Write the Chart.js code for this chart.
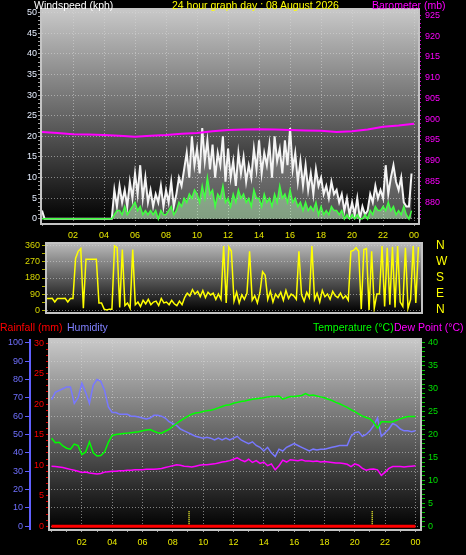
<!DOCTYPE html>
<html>
<head>
<meta charset="utf-8">
<script src="https://cdn.jsdelivr.net/npm/chart.js@4.4.1/dist/chart.umd.min.js"></script>
<style>
  body { margin: 0; background: #000; width: 466px; height: 555px; overflow: hidden; position: relative; font-family: "Liberation Sans", Arial, sans-serif; }
  canvas { position: absolute; left: 0; }
  .t { position: absolute; font-size: 10.5px; line-height: 12px; white-space: nowrap; z-index: 2; }
</style>
</head>
<body>
<canvas id="wind" width="466" height="245" style="top:0"></canvas>
<canvas id="dir" width="466" height="78" style="top:240px"></canvas>
<canvas id="climate" width="466" height="220" style="top:335px"></canvas>

<div class="t" style="left:34px;top:-1px;color:#fff">Windspeed (kph)</div>
<div class="t" style="left:172px;top:-1px;color:#ff0">24 hour graph day : 08 August 2026</div>
<div class="t" style="left:372px;top:-1px;color:#f0f">Barometer (mb)</div>
<div class="t" style="left:0;top:321px;color:#f00">Rainfall (mm)</div>
<div class="t" style="left:67px;top:321px;color:#8080ff">Humidity</div>
<div class="t" style="left:313px;top:321px;color:#0f0">Temperature (°C)</div>
<div class="t" style="left:394px;top:321px;color:#f0f">Dew Point (°C)</div>

<script>
// x tick labels (every 2 hours)
const hourLabels = ["02", "04", "06", "08", "10", "12", "14", "16", "18", "20", "22", "00"];

// wind, 10 minute samples (kph)
const gustKph = [
  2, 0, 0, 0, 0, 0,   0, 0, 0, 0, 0, 0,   0, 0, 0, 0, 0, 0,   0, 0, 0, 0, 0, 0,
  0, 0, 0, 0, 7, 3,   8, 4, 7, 3, 9, 5,   11, 6, 13, 5, 10, 4,   7, 3, 6, 4, 8, 3,
  7, 4, 9, 3, 6, 10,   8, 12, 16, 10, 20, 13,   17, 11, 22, 14, 19, 12,   18, 10, 16, 13, 20, 9,
  17, 10, 14, 8, 16, 11,   15, 9, 13, 10, 17, 12,   19, 11, 16, 13, 18, 10,   20, 14, 17, 11, 19, 13,
  22, 12, 16, 9, 14, 8,   13, 7, 11, 6, 12, 8,   10, 6, 8, 5, 9, 6,   7, 4, 6, 2, 5, 1,
  4, 1, 5, 0, 3, 1,   2, 6, 4, 8, 5, 7,   5, 13, 6, 10, 13, 9,   7, 10, 4, 3, 3, 11
];
const avgKph = [
  0, 0, 0, 0, 0, 0,   0, 0, 0, 0, 0, 0,   0, 0, 0, 0, 0, 0,   0, 0, 0, 0, 0, 0,
  0, 0, 0, 0, 1, 2,   2, 1, 3, 1, 2, 3,   4, 2, 3, 1, 2, 1,   2, 1, 2, 0, 2, 1,
  1, 2, 3, 1, 2, 4,   3, 5, 4, 6, 5, 7,   6, 4, 8, 5, 10, 6,   7, 3, 6, 5, 8, 4,
  5, 3, 6, 4, 7, 5,   6, 4, 5, 3, 7, 5,   5, 3, 6, 4, 5, 3,   6, 4, 8, 5, 6, 4,
  7, 4, 5, 3, 4, 2,   4, 2, 3, 2, 4, 1,   3, 1, 2, 1, 3, 2,   2, 1, 2, 0, 1, 0,
  1, 0, 1, 0, 0, 1,   0, 2, 1, 3, 2, 2,   3, 2, 4, 2, 3, 1,   2, 1, 3, 1, 0, 2
];
// barometer, hourly (mb)
const baroMb = [896.9, 896.7, 896.4, 896.3, 896.2, 896.0, 895.8, 896.0, 896.2, 896.5, 896.7, 897.1,
  897.4, 897.5, 897.6, 897.5, 897.4, 897.3, 897.2, 896.9, 897.1, 897.5, 898.2, 898.5, 898.9];

// wind direction, 10 minute samples (degrees)
const dirDeg = [
  65, 65, 66, 45, 65, 65,   65, 66, 45, 65, 65, 290,   330, 345, 10, 285, 285, 285,   285, 285, 40, 40, 5, 0,
  5, 5, 360, 350, 15, 340,   25, 40, 10, 340, 30, 45,   20, 55, 35, 60, 30, 45,   50, 25, 65, 40, 45, 30,
  55, 35, 25, 50, 30, 70,   95, 80, 115, 90, 105, 75,   110, 70, 100, 85, 95, 60,   90, 60, 360, 40, 355, 330,
  50, 100, 40, 85, 60, 95,   330, 55, 80, 40, 100, 215,   195, 60, 105, 45, 90, 70,   100, 55, 110, 65, 90, 80,
  60, 330, 85, 50, 100, 70,   360, 60, 95, 45, 110, 75,   90, 60, 105, 80, 70, 95,   65, 80, 55, 330, 335, 350,
  330, 5, 340, 345, 0, 330,   10, 90, 90, 360, 20, 350,   30, 355, 15, 360, 45, 20,   350, 10, 60, 360, 40, 355
];
const compassDeg = [0, 90, 180, 270, 360];
const compassLabels = ["N", "E", "S", "W", "N"];

// 15 minute samples
const humidityPct = [
  69, 73, 74, 75,  76, 76, 67, 70,  78, 73, 67, 77,  80, 79, 74, 65,
  62, 62, 61, 61,  61, 60, 60, 59.5,  59, 58.5, 59, 60.5,  60.5, 60, 59, 57,
  56, 55, 53, 52,  51, 50, 49, 48.5,  48, 48.5, 48, 47,  48, 47, 48, 47,
  48, 49, 47, 46,  45, 46, 44, 43,  41, 43, 40, 38,  42, 41, 43, 44,
  45, 44, 43, 42,  41, 42, 41.5, 42,  42, 42.5, 43, 43.5,  44, 44, 44, 49,
  51, 51.5, 49, 50,  52, 55, 59, 49,  51, 53, 56, 55,  53, 52, 52, 51.5,  52
];
const tempC = [
  19.2, 18.2, 18.3, 17.5,  17.0, 16.8, 17.9, 17.6,  15.6, 16.2, 18.4, 16.0,  15.3, 15.4, 16.2, 18.3,
  19.8, 20.0, 20.1, 20.2,  20.3, 20.4, 20.5, 20.6,  20.8, 21.0, 21.1, 20.7,  20.4, 20.3, 20.7, 21.1,
  21.8, 22.4, 23.0, 23.5,  24.0, 24.4, 24.7, 24.8,  25.0, 25.2, 25.3, 25.5,  25.8, 26.1, 26.4, 26.5,
  26.8, 27.0, 27.2, 27.3,  27.5, 27.7, 27.8, 27.9,  28.0, 28.2, 28.3, 28.3,  28.4, 27.7, 28.0, 28.3,
  28.3, 28.4, 28.5, 28.9,  28.5, 28.6, 28.4, 28.2,  28.0, 27.7, 27.4, 27.0,  26.7, 26.3, 25.9, 25.4,
  25.0, 24.5, 24.0, 23.7,  23.4, 22.6, 21.4, 22.8,  22.8, 22.7, 22.8, 23.1,  23.4, 23.7, 23.9, 23.9,  23.9
];
const dewC = [
  13.1, 13.0, 12.9, 12.8,  12.6, 12.4, 12.2, 12.0,  11.7, 11.8, 11.6, 11.5,  11.4, 11.5, 11.8, 11.9,
  12.0, 12.0, 12.1, 12.1,  12.2, 12.2, 12.3, 12.3,  12.3, 12.4, 12.4, 12.4,  12.5, 12.6, 12.8, 13.0,
  13.2, 13.4, 13.3, 13.1,  13.0, 12.9, 13.1, 13.3,  13.4, 13.4, 13.5, 13.6,  13.8, 14.0, 14.1, 14.3,
  14.6, 14.9, 14.4, 14.1,  14.6, 13.9, 14.3, 13.7,  14.0, 13.2, 13.6, 12.3,  13.2, 14.4, 14.0, 14.5,
  14.4, 14.3, 14.5, 14.2,  14.2, 14.1, 14.2, 14.0,  14.1, 14.0, 13.9, 13.8,  13.8, 13.7, 13.5, 13.0,
  13.6, 13.3, 12.6, 12.2,  12.4, 12.5, 12.3, 11.1,  11.8, 12.6, 13.0, 13.0,  13.0, 12.9, 13.0, 13.1,  13.2
];
// rainfall, hourly (mm)
const rainMm = [0, 0, 0, 0, 0, 0, 0, 0, 0, 0, 0, 0, 0, 0, 0, 0, 0, 0, 0, 0, 0, 0, 0, 0, 0];
// yellow dotted markers on the rain axis
const markerHours = [9.07, 21.15];
const markerMm = 2.5;

Chart.defaults.font.family = "'Liberation Sans', Arial, sans-serif";
Chart.defaults.font.size = 9;

const gridCol = "rgba(215,215,215,0.55)";
const pts = (vals, step) => vals.map((v, i) => ({ x: i * step, y: v }));
const setTicks = (s, from, to, step) => {
  const t = [];
  for (let v = from; v <= to + 1e-9; v += step) t.push({ value: v });
  s.ticks = t;
};
const hourLabel = v => (v > 0 && v % 2 === 0) ? hourLabels[v / 2 - 1] : "";
// fixed axis size, no extra label padding so the plot area lands where we want it
const fixSize = (w, h) => s => {
  if (w) s.width = w;
  if (h) s.height = h;
  s.paddingTop = 0; s.paddingBottom = 0; s.paddingLeft = 0; s.paddingRight = 0;
};

function plotFrame(topCol) {
  return {
    id: "plotFrame",
    beforeDraw(chart) {
      const { ctx, chartArea: a } = chart;
      const g = ctx.createLinearGradient(0, a.top, 0, a.bottom);
      g.addColorStop(0, topCol);
      g.addColorStop(1, "#000000");
      ctx.save();
      ctx.fillStyle = g;
      ctx.fillRect(a.left, a.top, a.width, a.height);
      ctx.restore();
    },
    afterDatasetsDraw(chart) {
      const { ctx, chartArea: a } = chart;
      ctx.save();
      ctx.strokeStyle = "#c4c4c4";
      ctx.lineWidth = 2;
      ctx.strokeRect(a.left - 1, a.top - 1, a.width + 2, a.height + 2);
      ctx.restore();
    }
  };
}

const base = {
  animation: false,
  responsive: false,
  events: [],
  plugins: { legend: { display: false }, tooltip: { enabled: false } },
  elements: { point: { radius: 0 }, line: { tension: 0 } }
};

// windspeed + barometer
new Chart(document.getElementById("wind"), {
  type: "line",
  data: {
    datasets: [
      { label: "Barometer", data: pts(baroMb, 1), yAxisID: "baro", borderColor: "#ff00ff", borderWidth: 2 },
      { label: "Average", data: pts(avgKph, 1 / 6), yAxisID: "y", borderColor: "#40ff40", backgroundColor: "rgba(190,255,190,0.45)", fill: "origin", borderWidth: 1.5 },
      { label: "Gust", data: pts(gustKph, 1 / 6), yAxisID: "y", borderColor: "#f4f4f4", backgroundColor: "rgba(255,255,255,0.3)", fill: "origin", borderWidth: 2 }
    ]
  },
  options: {
    ...base,
    layout: { padding: { left: 12, right: 8, top: 10, bottom: 0 } },
    scales: {
      x: {
        type: "linear", min: 0, max: 24.25,
        afterBuildTicks: s => setTicks(s, 0, 24, 2),
        afterFit: fixSize(0, 22),
        ticks: { color: "#e8e800", autoSkip: false, maxRotation: 0, padding: 4, callback: hourLabel },
        grid: { color: c => c.tick && c.tick.value > 0 ? gridCol : "transparent", tickColor: "#909090", tickLength: 3 },
        border: { display: false, dash: [1, 2] }
      },
      y: {
        position: "left", min: -1, max: 50.6,
        afterBuildTicks: s => setTicks(s, 0, 50, 1),
        afterFit: fixSize(30, 0),
        ticks: { color: "#e6eeff", autoSkip: false, padding: 1, callback: v => v % 5 === 0 ? v : "" },
        grid: { color: c => c.tick && c.tick.value % 5 === 0 ? gridCol : "transparent", tickColor: "#a0a0a0", tickLength: 4 },
        border: { display: false, dash: [1, 2] }
      },
      baro: {
        position: "right", min: 875, max: 926.3,
        afterBuildTicks: s => setTicks(s, 876, 925, 1),
        afterFit: fixSize(40, 0),
        ticks: { color: "#ff00ff", autoSkip: false, padding: 4, callback: v => v % 5 === 0 ? v : "" },
        grid: { drawOnChartArea: false, tickColor: "#d000d0", tickLength: 3 },
        border: { display: false }
      }
    }
  },
  plugins: [plotFrame("#c8c8c8")]
});

// wind direction
new Chart(document.getElementById("dir"), {
  type: "line",
  data: {
    datasets: [
      { label: "Direction", data: pts(dirDeg, 1 / 6), borderColor: "#ffff00", borderWidth: 1.5 }
    ]
  },
  options: {
    ...base,
    layout: { padding: { left: 17, right: 15, top: 4, bottom: 6 } },
    scales: {
      x: { type: "linear", display: false, min: 0, max: 24 },
      y: {
        position: "left", min: -11, max: 371,
        afterBuildTicks: s => setTicks(s, 0, 360, 45),
        afterFit: fixSize(30, 0),
        ticks: { color: "#d8d800", autoSkip: false, padding: 2, callback: v => v % 90 === 0 ? v : "" },
        grid: { color: c => c.tick && c.tick.value % 90 === 0 ? gridCol : "transparent", tickColor: "#b0b000", tickLength: 5 },
        border: { display: false, dash: [1, 2] }
      },
      compass: {
        position: "right", min: -11, max: 371,
        afterBuildTicks: s => { s.ticks = compassDeg.map(v => ({ value: v })); },
        afterFit: fixSize(30, 0),
        ticks: { color: "#ffff00", autoSkip: false, padding: 15, font: { size: 12 }, callback: (v, i) => compassLabels[i] },
        grid: { drawOnChartArea: false, drawTicks: false },
        border: { display: false }
      }
    }
  },
  plugins: [plotFrame("#b8b8b8")]
});

// rainfall, humidity, temperature, dew point
new Chart(document.getElementById("climate"), {
  type: "line",
  data: {
    datasets: [
      { label: "Rainfall", data: pts(rainMm, 1), yAxisID: "rain", borderColor: "#ff0000", borderWidth: 3 },
      ...markerHours.map(h => ({
        label: "marker", data: [{ x: h, y: 0 }, { x: h, y: markerMm }], yAxisID: "rain",
        borderColor: "#ffff30", borderWidth: 1.5, borderDash: [1, 1]
      })),
      { label: "Temperature", data: pts(tempC, 0.25), yAxisID: "temp", borderColor: "#00ff00", borderWidth: 1.5 },
      { label: "Dew Point", data: pts(dewC, 0.25), yAxisID: "temp", borderColor: "#ff00ff", borderWidth: 1.5 },
      { label: "Humidity", data: pts(humidityPct, 0.25), yAxisID: "hum", borderColor: "#7878ff", borderWidth: 1.5 }
    ]
  },
  options: {
    ...base,
    layout: { padding: { left: 2, right: 10, top: 5, bottom: 2 } },
    scales: {
      x: {
        type: "linear", min: -0.1, max: 24.3,
        afterBuildTicks: s => setTicks(s, 0, 24, 1),
        afterFit: fixSize(0, 24),
        ticks: { color: "#e8e800", autoSkip: false, maxRotation: 0, padding: 5, callback: hourLabel },
        grid: { color: c => c.tick && c.tick.value > 0 && c.tick.value % 2 === 0 ? gridCol : "transparent", tickColor: "#a0a0a0", tickLength: 3 },
        border: { display: false, dash: [1, 2] }
      },
      hum: {
        position: "left", weight: 2, min: -1.6, max: 101.6,
        afterBuildTicks: s => setTicks(s, 0, 100, 10),
        afterFit: fixSize(28, 0),
        ticks: { color: "#7070ff", autoSkip: false, padding: 2 },
        grid: { color: gridCol, tickColor: "#6060ff", tickLength: 5 },
        border: { display: true, color: "#6060ff", width: 2, dash: [1, 2] }
      },
      rain: {
        position: "left", weight: 1, min: -0.45, max: 30.5,
        afterBuildTicks: s => setTicks(s, 0, 30, 1),
        afterFit: fixSize(20, 0),
        ticks: { color: "#ff0000", autoSkip: false, padding: 2, callback: v => v % 5 === 0 ? v : "" },
        grid: { drawOnChartArea: false, tickColor: "#e00000", tickLength: 4 },
        border: { display: false }
      },
      temp: {
        position: "right", min: -0.6, max: 40.6,
        afterBuildTicks: s => setTicks(s, 0, 40, 1),
        afterFit: fixSize(36, 0),
        ticks: { color: "#00e000", autoSkip: false, padding: 3, callback: v => v % 5 === 0 ? v : "" },
        grid: { drawOnChartArea: false, tickColor: "#00c000", tickLength: 5 },
        border: { display: false }
      }
    }
  },
  plugins: [plotFrame("#c8c8c8")]
});
</script>
</body>
</html>
